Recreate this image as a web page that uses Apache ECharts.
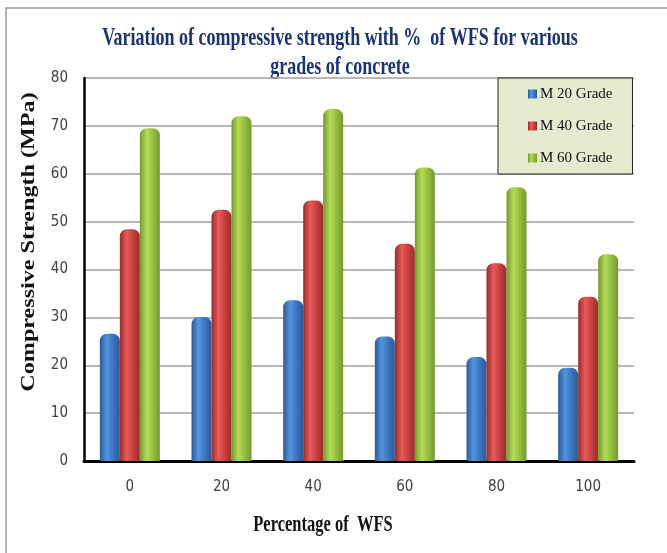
<!DOCTYPE html>
<html>
<head>
<meta charset="utf-8">
<script src="https://cdn.jsdelivr.net/npm/echarts@6/dist/echarts.min.js"></script>
<style>
  html, body { margin: 0; padding: 0; background: #ffffff; }
  #chart { width: 667px; height: 553px; }
</style>
</head>
<body>
<div id="chart"></div>
<script>
// Percentage of WFS replacing fine aggregate
const categories = ['0', '20', '40', '60', '80', '100'];
// Compressive strength (MPa) per concrete grade
const m20 = [26.6, 30.1, 33.6, 26.0, 21.7, 19.5];
const m40 = [48.4, 52.5, 54.4, 45.4, 41.3, 34.3];
const m60 = [69.5, 72.0, 73.5, 61.3, 57.2, 43.2];
const seriesNames = ['M 20 Grade', 'M 40 Grade', 'M 60 Grade'];
const yTicks = { min: 0, max: 80, interval: 10 };

const titleText = 'Variation of compressive strength with %  of WFS for various\ngrades of concrete';
const xTitle = 'Percentage of  WFS';
const yTitle = 'Compressive Strength (MPa)';

// horizontal gradient that gives each bar a rounded, cylinder look
function cylinder(edge, mid, light) {
  return new echarts.graphic.LinearGradient(0, 0, 1, 0, [
    { offset: 0, color: edge },
    { offset: 0.35, color: light },
    { offset: 0.6, color: mid },
    { offset: 1, color: edge }
  ]);
}
const fills = [
  cylinder('#2c5a94', '#3f7bc6', '#5595e0'),
  cylinder('#982c2c', '#cf4444', '#e85a5a'),
  cylinder('#76982e', '#9cc444', '#b4dc5a')
];
const dataSets = [m20, m40, m60];
const tickFont = "'Liberation Sans Narrow', 'DejaVu Sans Condensed', 'Open Sans', sans-serif";

const chart = echarts.init(document.getElementById('chart'), null, { renderer: 'canvas' });
chart.setOption({
  animation: false,
  backgroundColor: '#ffffff',
  legend: {
    orient: 'vertical',
    left: 498,
    top: 78,
    padding: [8, 20, 8, 30],
    itemGap: 16,
    itemWidth: 9,
    itemHeight: 9,
    icon: 'rect',
    backgroundColor: '#e5ebcf',
    borderColor: '#222222',
    borderWidth: 1,
    textStyle: {
      fontFamily: 'Liberation Serif',
      fontSize: 15,
      lineHeight: 16,
      color: '#111111',
      padding: [0, 0, 0, -2]
    },
    data: seriesNames
  },
  grid: { left: 84, right: 33, top: 78, bottom: 92, containLabel: false },
  xAxis: {
    type: 'category',
    data: categories,
    axisLine: { lineStyle: { color: '#000000', width: 3 } },
    axisTick: { show: false },
    axisLabel: {
      margin: 19,
      fontFamily: tickFont,
      fontSize: 15,
      color: '#404040'
    }
  },
  yAxis: {
    type: 'value',
    min: yTicks.min,
    max: yTicks.max,
    interval: yTicks.interval,
    axisLine: { show: true, lineStyle: { color: '#000000', width: 2.5 } },
    axisTick: { show: false },
    axisLabel: {
      margin: 16,
      fontFamily: tickFont,
      fontSize: 15,
      color: '#404040'
    },
    splitLine: { lineStyle: { color: '#a0a0a0', width: 1.5 } }
  },
  series: dataSets.map((values, i) => ({
    name: seriesNames[i],
    type: 'bar',
    data: values,
    barWidth: 20,
    barGap: '0%',
    itemStyle: { color: fills[i], borderRadius: [7, 7, 0, 0] }
  })),
  graphic: [
    {
      // outer frame
      type: 'rect',
      silent: true,
      z: -10,
      shape: { x: 6, y: 8, width: 700, height: 600 },
      style: { fill: 'none', stroke: '#9a9a9a', lineWidth: 1.5 }
    },
    {
      // chart title, tall narrow lettering
      type: 'text',
      silent: true,
      x: 340,
      y: 25,
      scaleY: 1.35,
      style: {
        text: titleText,
        font: 'bold 18px "Liberation Serif"',
        lineHeight: 21,
        fill: '#1b3370',
        textAlign: 'center',
        textVerticalAlign: 'top'
      }
    },
    {
      // x axis title
      type: 'text',
      silent: true,
      x: 323,
      y: 525,
      scaleY: 1.35,
      style: {
        text: xTitle,
        font: 'bold 16.5px "Liberation Serif"',
        fill: '#111111',
        textAlign: 'center',
        textVerticalAlign: 'middle'
      }
    },
    {
      // y axis title, reading bottom to top
      type: 'text',
      silent: true,
      x: 29,
      y: 242,
      rotation: Math.PI / 2,
      scaleX: 1.27,
      style: {
        text: yTitle,
        font: 'bold 19px "Liberation Serif"',
        fill: '#111111',
        textAlign: 'center',
        textVerticalAlign: 'middle'
      }
    }
  ]
});
</script>
</body>
</html>
